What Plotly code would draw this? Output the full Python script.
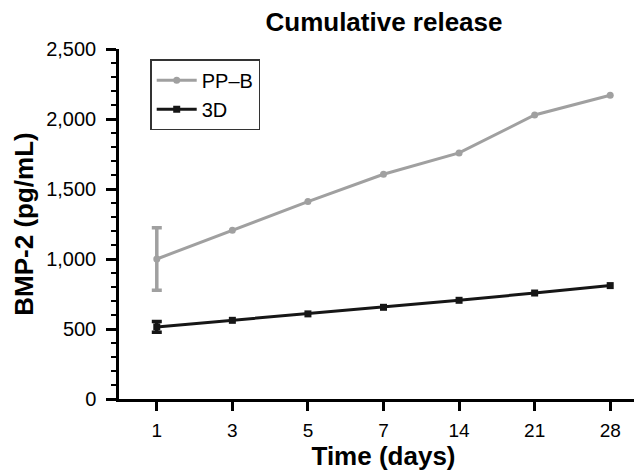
import plotly.graph_objects as go

days = ["1", "3", "5", "7", "14", "21", "28"]
ppb = [1000, 1205, 1410, 1605, 1758, 2029, 2170]
ppb_err = [223, 0, 0, 0, 0, 0, 0]
d3 = [515, 562, 608, 655, 705, 757, 810]
d3_err = [38, 0, 0, 0, 0, 0, 0]
y_ticks = [0, 500, 1000, 1500, 2000, 2500]
y_ticktext = ["0", "500", "1,000", "1,500", "2,000", "2,500"]

GRAY = "#a0a0a0"
BLACK = "#161616"
FONT = "Liberation Sans, Arial, sans-serif"

fig = go.Figure()

# error bars (first time point only)
fig.add_trace(go.Scatter(
    x=days[:1], y=ppb[:1], mode="markers", showlegend=False, hoverinfo="skip",
    marker=dict(size=1, color=GRAY, opacity=0),
    error_y=dict(type="data", array=ppb_err[:1], color=GRAY, thickness=3.5, width=5)))
fig.add_trace(go.Scatter(
    x=days[:1], y=d3[:1], mode="markers", showlegend=False, hoverinfo="skip",
    marker=dict(size=1, color=BLACK, opacity=0),
    error_y=dict(type="data", array=d3_err[:1], color=BLACK, thickness=3.5, width=5)))

fig.add_trace(go.Scatter(
    x=days, y=ppb, name="PP\u2013B", mode="lines+markers",
    line=dict(color=GRAY, width=3), marker=dict(symbol="circle", size=7, color=GRAY)))
fig.add_trace(go.Scatter(
    x=days, y=d3, name="3D", mode="lines+markers",
    line=dict(color=BLACK, width=3), marker=dict(symbol="square", size=7, color=BLACK)))

fig.update_layout(
    width=642, height=470,
    margin=dict(l=111, r=2, t=41, b=79),
    paper_bgcolor="white", plot_bgcolor="white",
    font=dict(family=FONT, color="black", size=19),
    title=dict(text="<b>Cumulative release</b>", x=376 / 642, xanchor="center",
               y=1 - 14 / 470, yanchor="middle", yref="container",
               font=dict(family=FONT, size=26, color="black")),
    legend=dict(x=0.059, y=0.971, xanchor="left", yanchor="top",
                bordercolor="#333333", borderwidth=1.5, bgcolor="white",
                font=dict(size=20), itemwidth=40, tracegroupgap=0),
    xaxis=dict(type="category", range=[-0.5, 6.5], showline=True, linecolor="black",
               linewidth=2.5, ticks="outside", ticklen=9, tickwidth=2.5, tickcolor="black",
               showgrid=False, zeroline=False, tickfont=dict(size=19), ticklabelstandoff=3,
               title=dict(text="<b>Time (days)</b>", font=dict(size=26), standoff=3)),
    yaxis=dict(range=[0, 2500], tickvals=y_ticks, ticktext=y_ticktext, showline=True,
               linecolor="black", linewidth=2.5, ticks="outside", ticklen=10, tickwidth=2.5,
               tickcolor="black", showgrid=False, zeroline=False, tickfont=dict(size=20),
               ticklabelstandoff=6,
               minor=dict(dtick=100, ticks="outside", ticklen=5, tickwidth=2, tickcolor="black"),
               title=dict(text="<b>BMP-2 (pg/mL)</b>", font=dict(size=26), standoff=6)),
)

fig.write_html("out.html")
